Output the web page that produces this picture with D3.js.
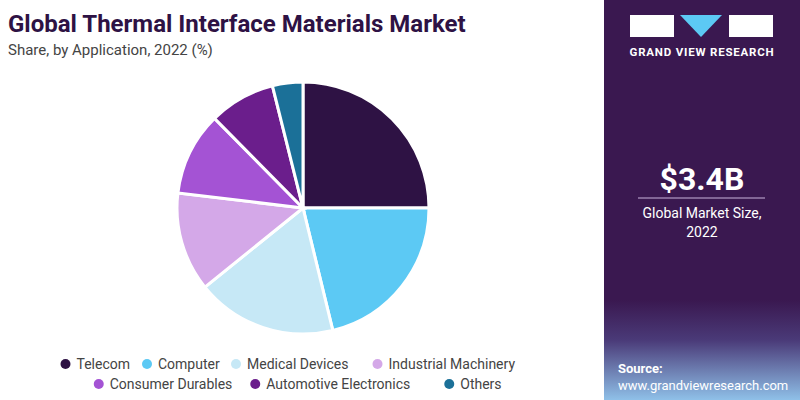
<!DOCTYPE html>
<html><head><meta charset="utf-8">
<script src="https://cdn.jsdelivr.net/npm/d3@7"></script>
<style>body{margin:0;background:#fff}svg{display:block;font-family:Roboto,"Liberation Sans",sans-serif}</style>
</head><body><svg id="c" width="800" height="400"></svg>
<script>
const categories = ["Telecom","Computer","Medical Devices","Industrial Machinery","Consumer Durables","Automotive Electronics","Others"];
const shares = [25.0, 21.2, 18.0, 12.7, 10.7, 8.5, 3.9];
const colors = ["#2e1244","#5cc9f4","#c6e8f6","#d4a8e8","#a453d4","#6b1e8c","#1b7098"];

const svg = d3.select("#c");

// title
svg.append("text").attr("x",8).attr("y",32).attr("font-size",24).attr("font-weight",700)
  .attr("fill","#2e1244").text("Global Thermal Interface Materials Market");
svg.append("text").attr("x",8).attr("y",55).attr("font-size",15).attr("fill","#444")
  .text("Share, by Application, 2022 (%)");

// pie
const pie = d3.pie().sort(null).value(d => d)(shares);
const arc = d3.arc().innerRadius(0).outerRadius(126);
const g = svg.append("g").attr("transform","translate(303,208)");
g.selectAll("path").data(pie).enter().append("path")
  .attr("d", arc).attr("fill", (d,i) => colors[i])
  .attr("stroke","#fff").attr("stroke-width",3);

// legend
const rows = [[0,1,2,3],[4,5,6]];
const rowY = [369, 389];
rows.forEach((r, ri) => {
  const widths = r.map(i => categories[i].length * 7.5 + 29);
  const total = d3.sum(widths);
  let x = 305 - total/2;
  r.forEach((i, k) => {
    svg.append("circle").attr("cx", x+6).attr("cy", rowY[ri]-5).attr("r",5).attr("fill",colors[i]);
    svg.append("text").attr("x", x+17).attr("y", rowY[ri]).attr("font-size",14).attr("fill","#444").text(categories[i]);
    x += widths[k];
  });
});

// right panel
const defs = svg.append("defs");
const lg = defs.append("linearGradient").attr("id","pg").attr("x1",0).attr("y1",0).attr("x2",0).attr("y2",1);
lg.append("stop").attr("offset","0.75").attr("stop-color","#3a1850");
lg.append("stop").attr("offset","0.85").attr("stop-color","#4a3a78");
lg.append("stop").attr("offset","1").attr("stop-color","#8fc0e8");
svg.append("rect").attr("x",604).attr("y",0).attr("width",196).attr("height",400).attr("fill","url(#pg)");

// logo
svg.append("rect").attr("x",630).attr("y",15).attr("width",44).attr("height",22).attr("fill","#fff");
svg.append("path").attr("d","M680,15 L722,15 L701,37 Z").attr("fill","#5cc9f4");
svg.append("rect").attr("x",729).attr("y",15).attr("width",44).attr("height",22).attr("fill","#fff");
svg.append("text").attr("x",702).attr("y",56).attr("text-anchor","middle").attr("font-size",11.5)
  .attr("font-weight",700).attr("letter-spacing",0.8).attr("fill","#fff").text("GRAND VIEW RESEARCH");

svg.append("text").attr("x",702).attr("y",190).attr("text-anchor","middle").attr("font-size",32)
  .attr("font-weight",700).attr("fill","#fff").text("$3.4B");
svg.append("line").attr("x1",638).attr("x2",765).attr("y1",198).attr("y2",198).attr("stroke","#c9b3dc").attr("stroke-width",1);
svg.append("text").attr("x",702).attr("y",218).attr("text-anchor","middle").attr("font-size",14).attr("fill","#fff").text("Global Market Size,");
svg.append("text").attr("x",702).attr("y",237).attr("text-anchor","middle").attr("font-size",14).attr("fill","#fff").text("2022");

svg.append("text").attr("x",618).attr("y",373).attr("font-size",13).attr("font-weight",700).attr("fill","#fff").text("Source:");
svg.append("text").attr("x",618).attr("y",390).attr("font-size",13).attr("fill","#fff").text("www.grandviewresearch.com");
</script></body></html>
